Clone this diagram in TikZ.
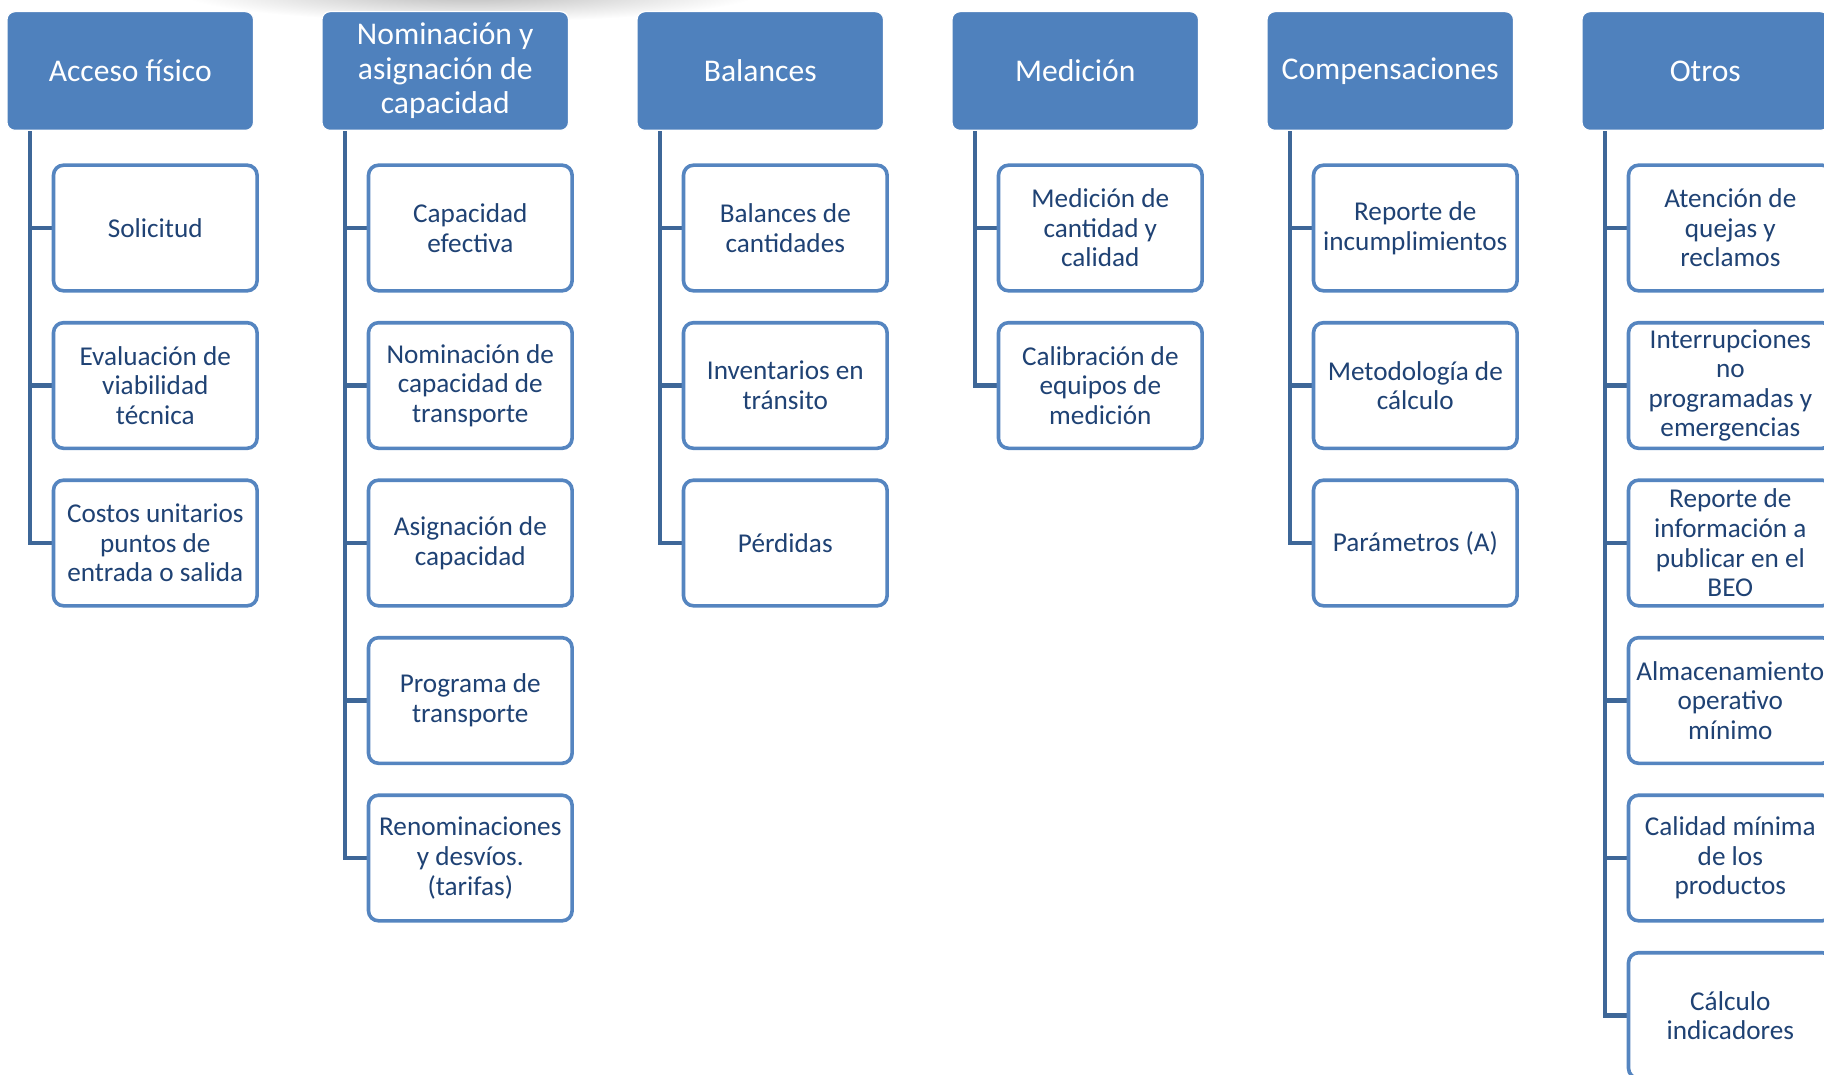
\documentclass[tikz,border=0pt]{standalone}
\usepackage{fontspec}
\setmainfont{Carlito}
\usetikzlibrary{backgrounds}
\definecolor{hdr}{HTML}{4F81BD}
\definecolor{itemborder}{HTML}{5585C0}
\definecolor{itemtext}{HTML}{1F4274}
\definecolor{connc}{HTML}{3E6798}
\begin{document}
\begin{tikzpicture}[x=0.5pt,y=-0.5pt,
  header/.style={rectangle, rounded corners=4pt, fill=hdr, draw=white, line width=0.6pt,
    minimum width=123.25pt, minimum height=59.35pt, text=white,
    font=\fontsize{15.8}{17.2}\selectfont, align=center, inner sep=0pt},
  item/.style={rectangle, rounded corners=5pt, fill=white, draw=itemborder, line width=1.8pt,
    minimum width=101.8pt, minimum height=62.8pt, text=itemtext,
    font=\fontsize{13.6}{14.8}\selectfont, align=center, inner sep=0pt},
  conn/.style={draw=connc, line width=2.3pt}]
\useasboundingbox (0,0) rectangle (1824,1075);
\clip (0,0) rectangle (1824,1075);

% headers
\node[header] (h0) at (130.25,71) {Acceso físico};
\node[header] (h1) at (445.25,71) {Nominación y\\asignación de\\capacidad};
\node[header] (h2) at (760.25,71) {Balances};
\node[header] (h3) at (1075.25,71) {Medición};
\node[header] (h4) at (1390.25,71) {Compensaciones};
\node[header] (h5) at (1705.25,71) {Otros};

% column 0
\node[item] (c00) at (155.3,228) {Solicitud};
\node[item] (c01) at (155.3,385.5) {Evaluación de\\viabilidad\\técnica};
\node[item] (c02) at (155.3,543) {Costos unitarios\\puntos de\\entrada o salida};

% column 1
\node[item] (c10) at (470.3,228) {Capacidad\\efectiva};
\node[item] (c11) at (470.3,385.5) {Nominación de\\capacidad de\\transporte};
\node[item] (c12) at (470.3,543) {Asignación de\\capacidad};
\node[item] (c13) at (470.3,700.5) {Programa de\\transporte};
\node[item] (c14) at (470.3,858) {Renominaciones\\y desvíos.\\(tarifas)};

% column 2
\node[item] (c20) at (785.3,228) {Balances de\\cantidades};
\node[item] (c21) at (785.3,385.5) {Inventarios en\\tránsito};
\node[item] (c22) at (785.3,543) {Pérdidas};

% column 3
\node[item] (c30) at (1100.3,228) {Medición de\\cantidad y\\calidad};
\node[item] (c31) at (1100.3,385.5) {Calibración de\\equipos de\\medición};

% column 4
\node[item] (c40) at (1415.3,228) {Reporte de\\incumplimientos};
\node[item] (c41) at (1415.3,385.5) {Metodología de\\cálculo};
\node[item] (c42) at (1415.3,543) {Parámetros (A)};

% column 5
\node[item] (c50) at (1730.3,228) {Atención de\\quejas y\\reclamos};
\node[item] (c51) at (1730.3,385.5) {Interrupciones\\no\\programadas y\\emergencias};
\node[item] (c52) at (1730.3,543) {Reporte de\\información a\\publicar en el\\BEO};
\node[item] (c53) at (1730.3,700.5) {Almacenamiento\\operativo\\mínimo};
\node[item] (c54) at (1730.3,858) {Calidad mínima\\de los\\productos};
\node[item] (c55) at (1730.3,1015.5) {Cálculo\\indicadores};

\begin{scope}[on background layer]
  \shade[inner color=black!28, outer color=white] (470,-8) ellipse [x radius=290, y radius=30];
  \coordinate (l0) at (30,130);
  \coordinate (l1) at (345,130);
  \coordinate (l2) at (660,130);
  \coordinate (l3) at (975,130);
  \coordinate (l4) at (1290,130);
  \coordinate (l5) at (1605,130);
  % column 0
  \draw[conn] (l0) |- (c02.west);
  \draw[conn] (l0 |- c00.west) -- (c00.west);
  \draw[conn] (l0 |- c01.west) -- (c01.west);
  % column 1
  \draw[conn] (l1) |- (c14.west);
  \draw[conn] (l1 |- c10.west) -- (c10.west);
  \draw[conn] (l1 |- c11.west) -- (c11.west);
  \draw[conn] (l1 |- c12.west) -- (c12.west);
  \draw[conn] (l1 |- c13.west) -- (c13.west);
  % column 2
  \draw[conn] (l2) |- (c22.west);
  \draw[conn] (l2 |- c20.west) -- (c20.west);
  \draw[conn] (l2 |- c21.west) -- (c21.west);
  % column 3
  \draw[conn] (l3) |- (c31.west);
  \draw[conn] (l3 |- c30.west) -- (c30.west);
  % column 4
  \draw[conn] (l4) |- (c42.west);
  \draw[conn] (l4 |- c40.west) -- (c40.west);
  \draw[conn] (l4 |- c41.west) -- (c41.west);
  % column 5
  \draw[conn] (l5) |- (c55.west);
  \draw[conn] (l5 |- c50.west) -- (c50.west);
  \draw[conn] (l5 |- c51.west) -- (c51.west);
  \draw[conn] (l5 |- c52.west) -- (c52.west);
  \draw[conn] (l5 |- c53.west) -- (c53.west);
  \draw[conn] (l5 |- c54.west) -- (c54.west);
\end{scope}
\end{tikzpicture}
\end{document}
